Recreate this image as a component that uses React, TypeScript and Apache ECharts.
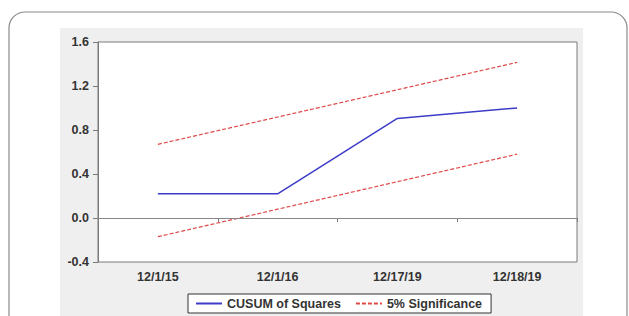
import React, { useEffect, useRef } from "react";
import * as echarts from "echarts";

const categories = ["12/1/15", "12/1/16", "12/17/19", "12/18/19"];
const cusumSquares = [0.22, 0.22, 0.905, 1.0];
const upperBound = [0.67, 0.918, 1.166, 1.415];
const lowerBound = [-0.17, 0.08, 0.33, 0.58];
const yTicks = { min: -0.4, max: 1.6, interval: 0.4 };

export default function App() {
  const ref = useRef<HTMLDivElement>(null);
  useEffect(() => {
    if (!ref.current) return;
    const chart = echarts.init(ref.current, null, { renderer: "svg" });
    const font = "Liberation Sans, Arial, sans-serif";
    const txt = { fontFamily: font, fontSize: 12.5, fontWeight: "bold", color: "#333" };
    chart.setOption({
      animation: false,
      backgroundColor: "#fff",
      graphic: [
        {
          type: "rect",
          z: -10,
          silent: true,
          shape: { x: 9, y: 12, width: 618, height: 340, r: 16 },
          style: { fill: "#fff", stroke: "#8a8a8a", lineWidth: 1.2 },
        },
        {
          type: "rect",
          z: -9,
          silent: true,
          shape: { x: 60, y: 28, width: 523, height: 300 },
          style: { fill: "#efefef" },
        },
      ],
      grid: {
        left: 98,
        top: 42,
        right: 52,
        bottom: 54,
        show: true,
        backgroundColor: "#fff",
        borderColor: "#7a7a7a",
        borderWidth: 1,
      },
      legend: {
        left: 188,
        top: 294,
        itemWidth: 26,
        itemHeight: 10,
        itemGap: 14,
        padding: [3, 9, 3, 7],
        borderColor: "#333",
        borderWidth: 1,
        backgroundColor: "#fff",
        itemStyle: { opacity: 0 },
        textStyle: { ...txt },
        data: ["CUSUM of Squares", "5% Significance"],
      },
      xAxis: {
        type: "category",
        data: categories,
        boundaryGap: true,
        axisLine: { lineStyle: { color: "#7a7a7a" } },
        axisTick: { show: true, length: 4, interval: 0, lineStyle: { color: "#7a7a7a" } },
        axisLabel: { ...txt, margin: 8, interval: 0 },
        splitLine: { show: false },
      },
      yAxis: {
        type: "value",
        min: yTicks.min,
        max: yTicks.max,
        interval: yTicks.interval,
        axisLine: { show: true, lineStyle: { color: "#7a7a7a" } },
        axisTick: { show: true, length: 5, lineStyle: { color: "#7a7a7a" } },
        axisLabel: {
          ...txt,
          margin: 9,
          formatter: (v: number) => v.toFixed(1),
        },
        splitLine: { show: false },
      },
      series: [
        {
          name: "CUSUM of Squares",
          type: "line",
          data: cusumSquares,
          symbol: "none",
          lineStyle: { color: "#3c3cc8", width: 1.5 },
          itemStyle: { color: "#3c3cc8" },
          z: 3,
          markLine: {
            silent: true,
            symbol: "none",
            label: { show: false },
            lineStyle: { color: "#888", width: 1, type: "solid" },
            data: [{ yAxis: 0 }],
          },
        },
        {
          name: "5% Significance",
          type: "line",
          data: upperBound,
          symbol: "none",
          lineStyle: { color: "#e04848", width: 1.2, type: [4, 2] },
          itemStyle: { color: "#e04848" },
        },
        {
          name: "5% Significance",
          type: "line",
          data: lowerBound,
          symbol: "none",
          lineStyle: { color: "#e04848", width: 1.2, type: [4, 2] },
          itemStyle: { color: "#e04848" },
        },
      ],
    });
    return () => chart.dispose();
  }, []);
  return (
    <div
      ref={ref}
      style={{ position: "fixed", left: 0, top: 0, width: 629, height: 316 }}
    />
  );
}
